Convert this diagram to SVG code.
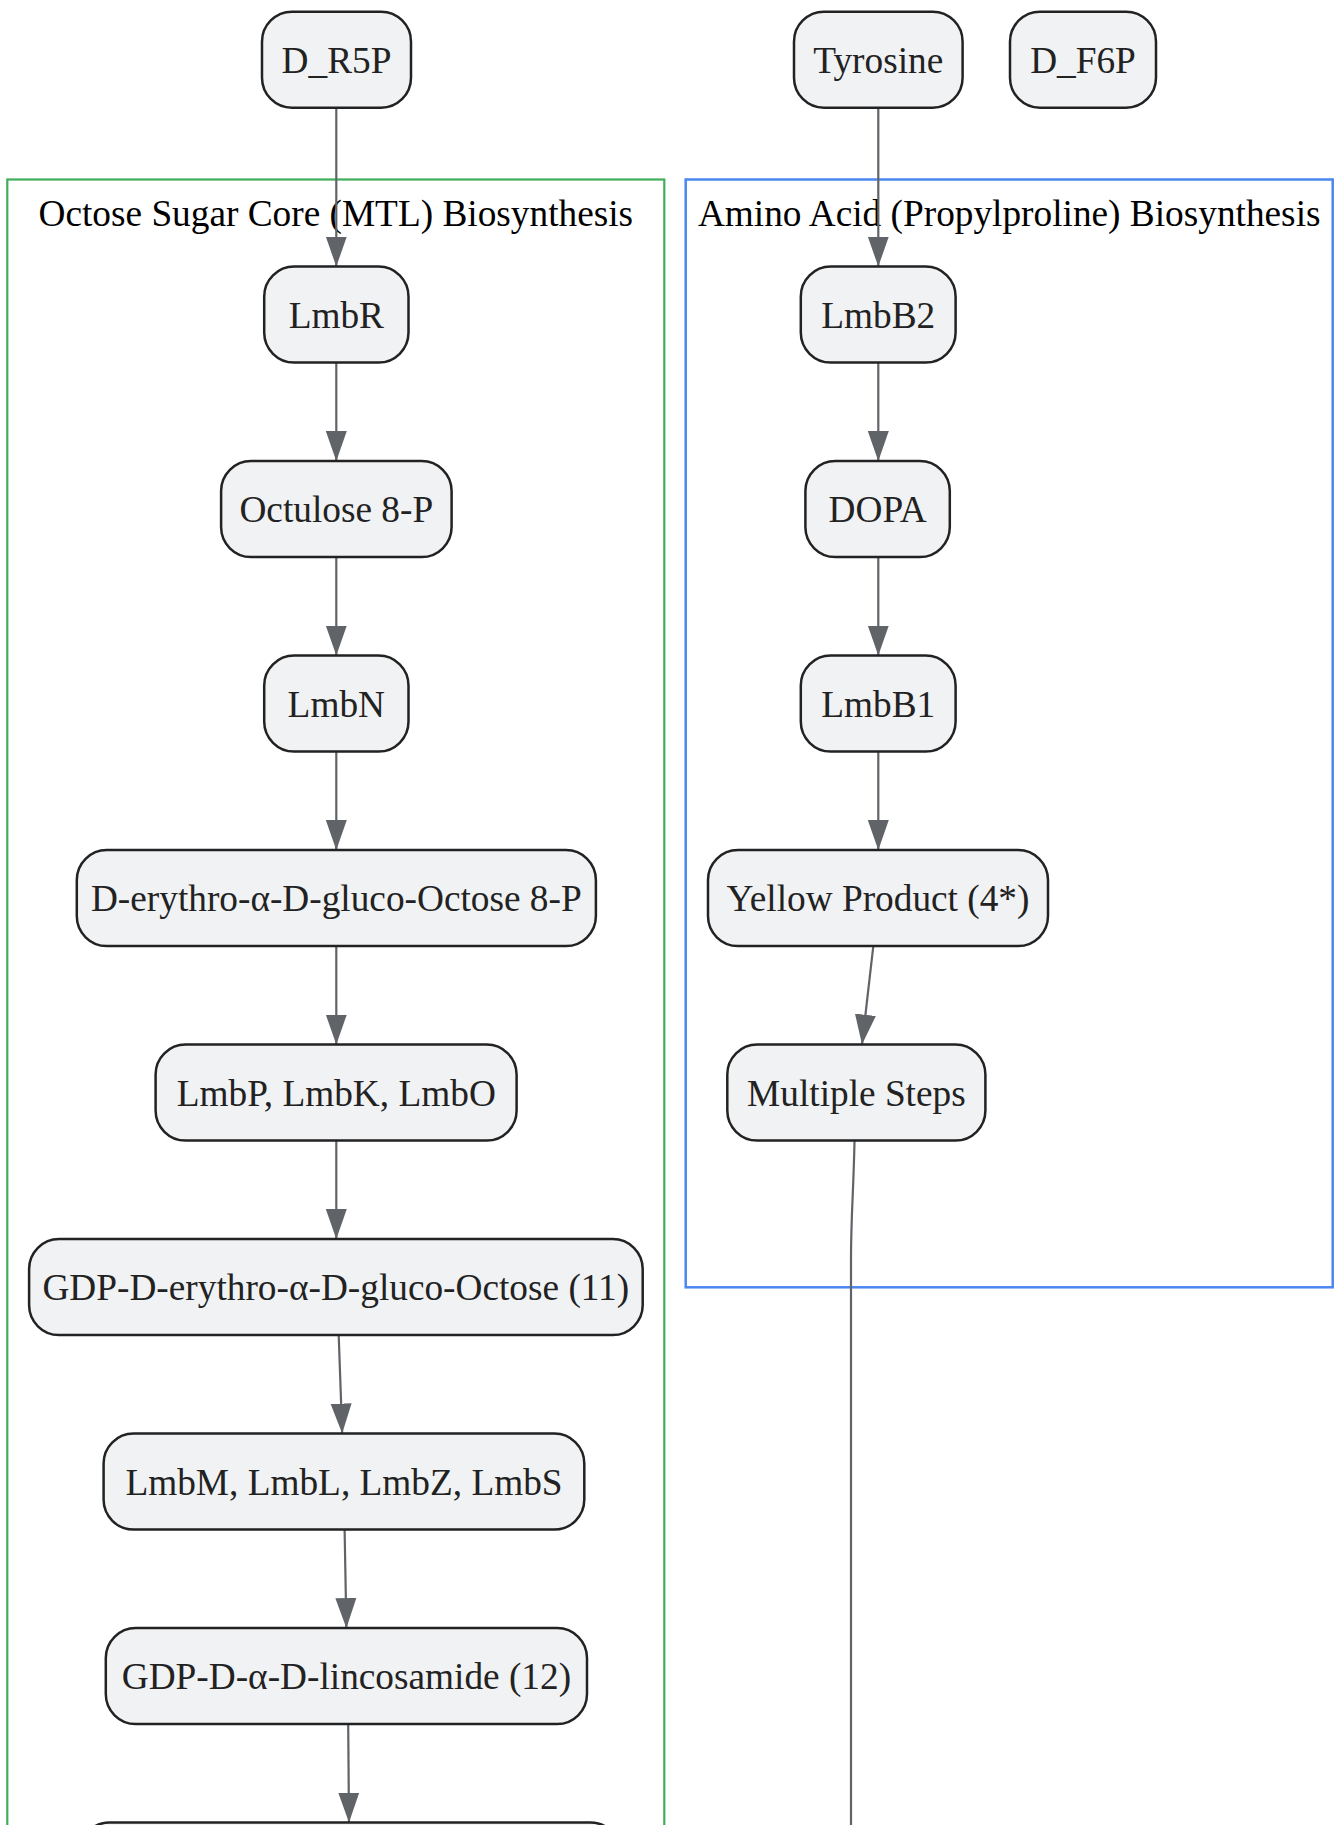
<svg xmlns="http://www.w3.org/2000/svg" width="1335" height="1825" viewBox="0 0 1335 1825">
<style>
.node rect{fill:#f1f2f4;stroke:#222;stroke-width:2.5}
.node text{font-family:"Liberation Serif","Times New Roman",serif;font-size:37.3px;fill:#222;text-anchor:middle}
.ctitle{font-family:"Liberation Serif","Times New Roman",serif;font-size:37.3px;fill:#000;text-anchor:middle}
.edge{fill:none;stroke:#606368;stroke-width:2.2;marker-end:url(#arr)}
</style>
<defs>
<marker id="arr" markerUnits="userSpaceOnUse" viewBox="0 0 30 22" markerWidth="30" markerHeight="22" refX="30" refY="11" orient="auto">
<path d="M0,0.5 L30,11 L0,21.5 z" fill="#606368"/>
</marker>
</defs>
<rect width="1335" height="1825" fill="#fff"/>
<g id="clusters">
<g id="cluster-octose">
<rect x="7.3" y="179.5" width="657" height="1700" fill="#fff" stroke="#3fae5a" stroke-width="2.2"/>
<text class="ctitle" x="335.8" y="225.5">Octose Sugar Core (MTL) Biosynthesis</text>
</g>
<g id="cluster-amino">
<rect x="685.7" y="179.5" width="647" height="1107.8" fill="#fff" stroke="#4a87f0" stroke-width="2.5"/>
<text class="ctitle" x="1009.2" y="225.5">Amino Acid (Propylproline) Biosynthesis</text>
</g>
</g>
<g id="connectors">
<path class="edge" d="M336.3,107.7 L336.3,266.6"/>
<path class="edge" d="M878.3,107.7 L878.3,266.6"/>
<path class="edge" d="M336.3,362.6 L336.3,461.1"/>
<path class="edge" d="M336.3,557.1 L336.3,655.6"/>
<path class="edge" d="M336.3,751.6 L336.3,850.1"/>
<path class="edge" d="M336.3,946.1 L336.3,1044.6"/>
<path class="edge" d="M336.3,1140.6 L336.3,1239.1"/>
<path class="edge" d="M338.7,1335.1 L342.2,1433.6"/>
<path class="edge" d="M344.6,1529.6 L346.4,1628.1"/>
<path class="edge" d="M348.2,1724.1 L349,1822.6"/>
<path class="edge" d="M878.3,362.6 L878.3,461.1"/>
<path class="edge" d="M878.3,557.1 L878.3,655.6"/>
<path class="edge" d="M878.3,751.6 L878.3,850.1"/>
<path class="edge" d="M873.3,946.1 L862,1044.6"/>
<path fill="none" stroke="#606368" stroke-width="2.2" d="M854.5,1141 C853.6,1190 851,1215 851,1260 L851,1830"/>
</g>
<g id="node-D_R5P" class="node"><rect x="262" y="11.7" width="149" height="96" rx="30"/><text x="336.5" y="72.8">D_R5P</text></g>
<g id="node-Tyrosine" class="node"><rect x="794" y="11.7" width="168.6" height="96" rx="30"/><text x="878.3" y="72.8">Tyrosine</text></g>
<g id="node-D_F6P" class="node"><rect x="1010" y="11.7" width="146" height="96" rx="30"/><text x="1083" y="72.8">D_F6P</text></g>
<g id="node-LmbR" class="node"><rect x="264.2" y="266.6" width="144.3" height="96" rx="30"/><text x="336.3" y="327.7">LmbR</text></g>
<g id="node-Octulose" class="node"><rect x="221.1" y="461.1" width="230.5" height="96" rx="30"/><text x="336.3" y="522.2">Octulose 8-P</text></g>
<g id="node-LmbN" class="node"><rect x="264.2" y="655.6" width="144.3" height="96" rx="30"/><text x="336.3" y="716.7">LmbN</text></g>
<g id="node-Octose8P" class="node"><rect x="76.8" y="850.1" width="519.1" height="96" rx="30"/><text x="336.3" y="911.2">D-erythro-α-D-gluco-Octose 8-P</text></g>
<g id="node-LmbPKO" class="node"><rect x="155.6" y="1044.6" width="361" height="96" rx="30"/><text x="336.3" y="1105.7">LmbP, LmbK, LmbO</text></g>
<g id="node-GDPOctose" class="node"><rect x="29.1" y="1239.1" width="613.6" height="96" rx="30"/><text x="335.8" y="1300.2">GDP-D-erythro-α-D-gluco-Octose (11)</text></g>
<g id="node-LmbMLZS" class="node"><rect x="103.6" y="1433.6" width="480.7" height="96" rx="30"/><text x="344" y="1494.7">LmbM, LmbL, LmbZ, LmbS</text></g>
<g id="node-GDPLinc" class="node"><rect x="105.8" y="1628.1" width="481.2" height="96" rx="30"/><text x="346.4" y="1689.2">GDP-D-α-D-lincosamide (12)</text></g>
<g id="node-next" class="node"><rect x="79.5" y="1822.6" width="541" height="96" rx="30"/></g>
<g id="node-LmbB2" class="node"><rect x="800.8" y="266.6" width="154.8" height="96" rx="30"/><text x="878.2" y="327.7">LmbB2</text></g>
<g id="node-DOPA" class="node"><rect x="805.4" y="461.1" width="144.4" height="96" rx="30"/><text x="877.6" y="522.2">DOPA</text></g>
<g id="node-LmbB1" class="node"><rect x="800.8" y="655.6" width="154.8" height="96" rx="30"/><text x="878.2" y="716.7">LmbB1</text></g>
<g id="node-Yellow" class="node"><rect x="708" y="850.1" width="340" height="96" rx="30"/><text x="878" y="911.2">Yellow Product (4*)</text></g>
<g id="node-Multiple" class="node"><rect x="727.3" y="1044.6" width="258.1" height="96" rx="30"/><text x="856.4" y="1105.7">Multiple Steps</text></g>
</svg>
